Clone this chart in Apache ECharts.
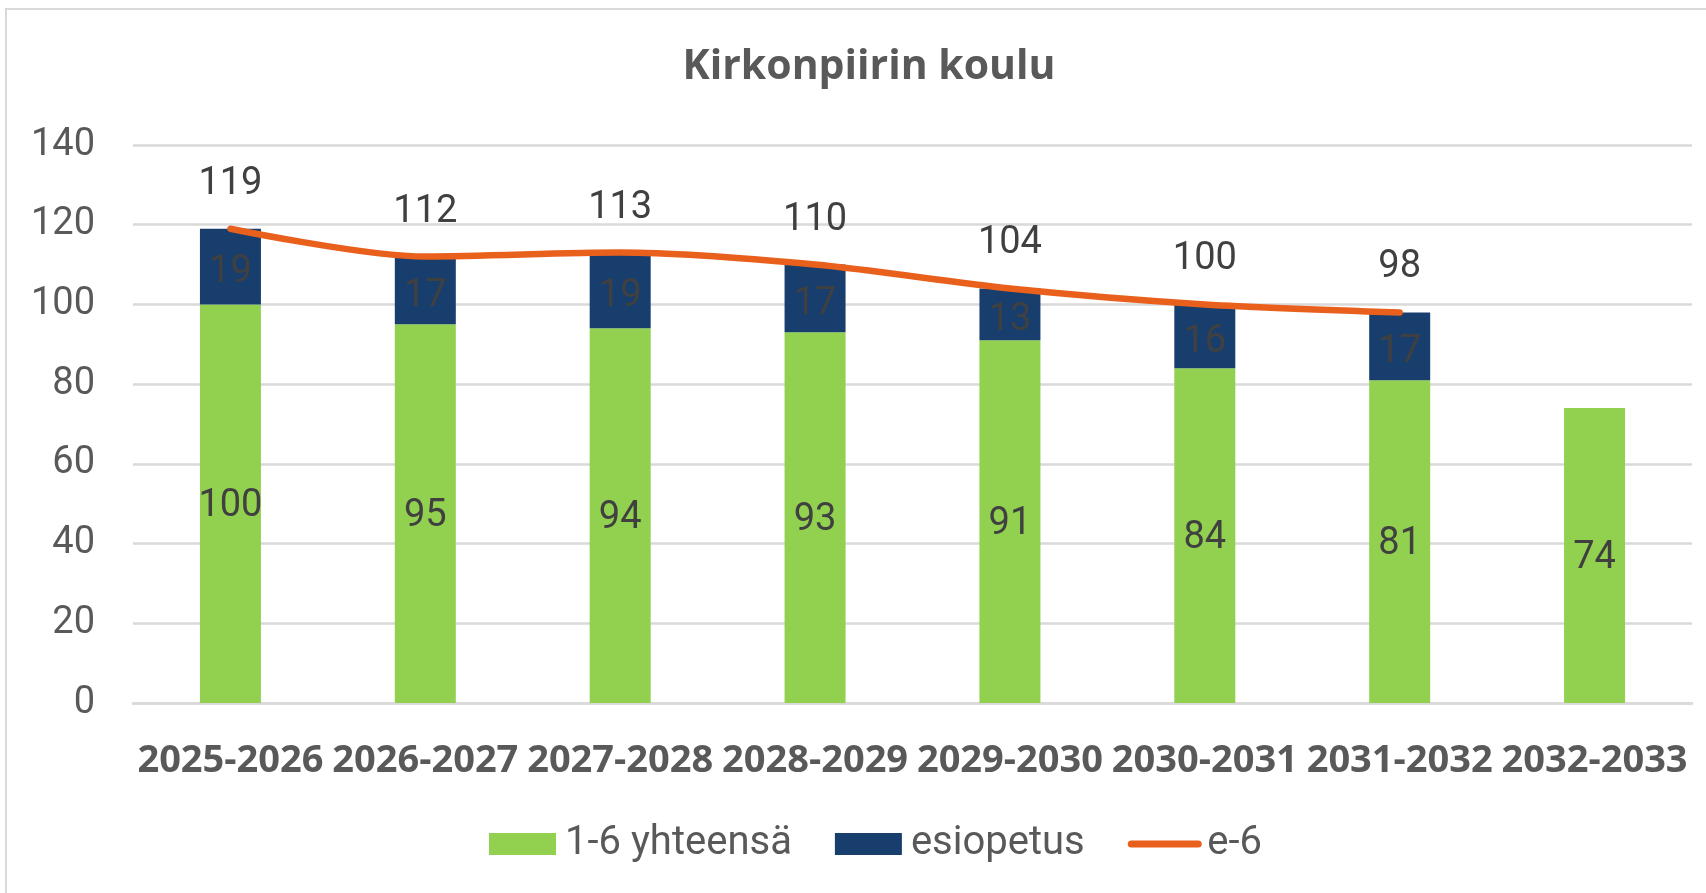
<!DOCTYPE html>
<html>
<head>
<meta charset="utf-8">
<script src="https://cdn.jsdelivr.net/npm/echarts@6/dist/echarts.min.js"></script>
<style>
html,body{margin:0;padding:0;background:#fff;}
#chart{width:1706px;height:893px;}
</style>
</head>
<body>
<div id="chart"></div>
<script>
var categories = ['2025-2026','2026-2027','2027-2028','2028-2029','2029-2030','2030-2031','2031-2032','2032-2033'];
var grades16 = [100, 95, 94, 93, 91, 84, 81, 74];
var preschool = [19, 17, 19, 17, 13, 16, 17, null];
var total = [119, 112, 113, 110, 104, 100, 98, null];
var yTicks = [0, 20, 40, 60, 80, 100, 120, 140];

var narrow = 'Roboto, "Liberation Sans", sans-serif';
var wide = '"Open Sans", "Noto Sans", sans-serif';

var chart = echarts.init(document.getElementById('chart'), null, {renderer: 'canvas'});
chart.setOption({
  backgroundColor: '#ffffff',
  animation: false,
  graphic: [{
    type: 'rect',
    shape: {x: 6, y: 9, width: 1800, height: 1000},
    style: {fill: 'none', stroke: '#D9D9D9', lineWidth: 2},
    silent: true
  }],
  title: {
    text: 'Kirkonpiirin koulu',
    left: 864,
    top: 42,
    textAlign: 'center',
    textStyle: {fontFamily: wide, fontWeight: 'bold', fontSize: 41, color: '#595959'}
  },
  legend: {
    left: 484,
    top: 819,
    itemWidth: 67,
    itemHeight: 22,
    itemGap: 43,
    textStyle: {fontFamily: narrow, fontSize: 40, color: '#595959', padding: [0, 0, 0, 4]},
    data: [
      {name: '1-6 yhteensä', icon: 'rect'},
      {name: 'esiopetus', icon: 'rect'},
      {name: 'e-6', itemStyle: {opacity: 0}, lineStyle: {width: 7, cap: 'round', color: '#E8601C'}}
    ]
  },
  grid: {left: 133, right: 14, top: 145, bottom: 190, containLabel: false},
  xAxis: {
    type: 'category',
    data: categories,
    axisTick: {show: false},
    axisLine: {lineStyle: {color: '#D9D9D9', width: 2.5}},
    axisLabel: {fontFamily: wide, fontWeight: 'bold', fontSize: 38, color: '#595959', margin: 39, interval: 0}
  },
  yAxis: {
    type: 'value',
    min: yTicks[0],
    max: yTicks[yTicks.length - 1],
    interval: 20,
    axisLine: {show: false},
    axisTick: {show: false},
    splitLine: {lineStyle: {color: '#D9D9D9', width: 2.5}},
    axisLabel: {fontFamily: narrow, fontSize: 38, color: '#595959', margin: 38}
  },
  series: [
    {
      name: '1-6 yhteensä',
      type: 'bar',
      stack: 'a',
      barWidth: 61,
      data: grades16,
      itemStyle: {color: '#92D050'},
      label: {show: true, position: 'inside', offset: [0, 3], fontFamily: narrow, fontSize: 38, color: '#404040'}
    },
    {
      name: 'esiopetus',
      type: 'bar',
      stack: 'a',
      barWidth: 61,
      data: preschool,
      itemStyle: {color: '#183E6E'},
      label: {show: true, position: 'inside', offset: [0, 6], fontFamily: narrow, fontSize: 38, color: '#404040'}
    },
    {
      name: 'e-6',
      type: 'line',
      data: total,
      smooth: 0.3,
      symbol: 'circle',
      symbolSize: 1,
      showSymbol: true,
      lineStyle: {color: '#E8601C', width: 6.5, cap: 'round'},
      itemStyle: {color: '#E8601C'},
      label: {show: true, position: 'top', distance: 25, fontFamily: narrow, fontSize: 38, color: '#404040'},
      z: 5
    }
  ]
});
</script>
</body>
</html>
